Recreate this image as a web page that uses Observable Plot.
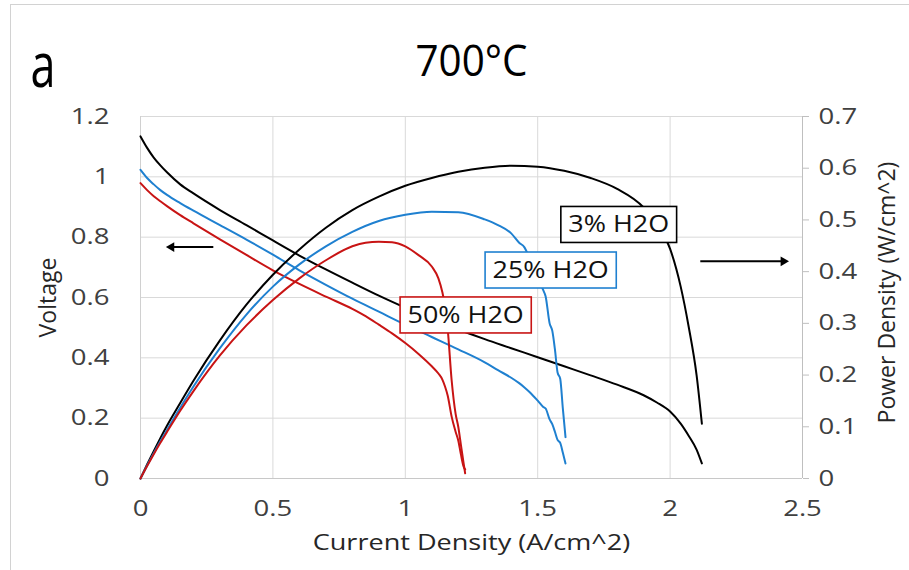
<!DOCTYPE html>
<html>
<head>
<meta charset="utf-8">
<script src="https://cdn.jsdelivr.net/npm/d3@7"></script>
<script src="https://cdn.jsdelivr.net/npm/@observablehq/plot@0.6"></script>
<style>
  html, body { margin: 0; padding: 0; background: #fff; overflow: hidden; }
  #chart { position: relative; width: 909px; height: 570px; }
  #chart .sheet { position: absolute; left: 10px; top: 4px; width: 940px; height: 620px; border: 1px solid #d2d2d2; box-sizing: border-box; pointer-events: none; }
  #chart svg { position: absolute; left: 0; top: 0; }
</style>
</head>
<body>
<div id="chart"><div class="sheet"></div></div>
<script>
// Polarization sweeps at 700°C: current density (A/cm^2), cell voltage (V), power density (W/cm^2)
const current3 = [0, 0.025, 0.05, 0.075, 0.1, 0.15, 0.2, 0.3, 0.4, 0.5, 0.6, 0.7, 0.8, 0.9, 1.0, 1.1, 1.2, 1.3, 1.4, 1.5, 1.6, 1.7, 1.8, 1.9, 1.95, 2.0, 2.04, 2.07, 2.1, 2.12];
const voltage3 = [1.134, 1.096, 1.064, 1.038, 1.015, 0.975, 0.945, 0.890, 0.840, 0.789, 0.739, 0.693, 0.649, 0.606, 0.566, 0.528, 0.494, 0.462, 0.432, 0.402, 0.372, 0.342, 0.311, 0.276, 0.252, 0.222, 0.182, 0.142, 0.096, 0.05];
const power3   = [0, 0.027, 0.053, 0.078, 0.102, 0.146, 0.189, 0.267, 0.336, 0.394, 0.443, 0.485, 0.519, 0.545, 0.566, 0.581, 0.593, 0.601, 0.605, 0.603, 0.595, 0.581, 0.56, 0.524, 0.491, 0.444, 0.371, 0.294, 0.2, 0.106];

const current25 = [0, 0.025, 0.05, 0.075, 0.1, 0.15, 0.2, 0.3, 0.4, 0.5, 0.6, 0.7, 0.8, 0.9, 1.0, 1.1, 1.2, 1.3, 1.35, 1.4, 1.43, 1.45, 1.47, 1.5, 1.52, 1.53, 1.545, 1.555, 1.565, 1.575, 1.585, 1.595, 1.605];
const voltage25 = [1.023, 0.996, 0.975, 0.956, 0.940, 0.913, 0.888, 0.840, 0.792, 0.742, 0.690, 0.642, 0.596, 0.553, 0.510, 0.469, 0.428, 0.385, 0.359, 0.334, 0.316, 0.302, 0.286, 0.258, 0.238, 0.232, 0.196, 0.18, 0.155, 0.128, 0.118, 0.085, 0.05];
const power25   = [0, 0.025, 0.049, 0.072, 0.094, 0.137, 0.178, 0.252, 0.317, 0.371, 0.414, 0.449, 0.477, 0.498, 0.51, 0.516, 0.515, 0.501, 0.49, 0.474, 0.456, 0.447, 0.425, 0.39, 0.365, 0.352, 0.3, 0.286, 0.25, 0.205, 0.193, 0.135, 0.08];

const current50 = [0, 0.025, 0.05, 0.075, 0.1, 0.15, 0.2, 0.3, 0.4, 0.5, 0.6, 0.7, 0.8, 0.85, 0.9, 0.95, 1.0, 1.05, 1.1, 1.125, 1.14, 1.15, 1.16, 1.175, 1.19, 1.2, 1.21, 1.22, 1.226];
const voltage50 = [0.979, 0.956, 0.936, 0.919, 0.903, 0.873, 0.846, 0.793, 0.741, 0.69, 0.645, 0.603, 0.562, 0.538, 0.510, 0.481, 0.449, 0.413, 0.372, 0.348, 0.328, 0.305, 0.275, 0.205, 0.155, 0.126, 0.08, 0.04, 0.03];
const power50   = [0, 0.024, 0.047, 0.069, 0.09, 0.131, 0.169, 0.238, 0.296, 0.345, 0.387, 0.422, 0.449, 0.456, 0.458, 0.457, 0.449, 0.432, 0.41, 0.387, 0.36, 0.333, 0.29, 0.19, 0.125, 0.1, 0.065, 0.03, 0.01];

const seriesNames  = ["3% H2O", "25% H2O", "50% H2O"];
const seriesColors = ["#000000", "#1f80d0", "#c81414"];

const xTicks       = [0, 0.5, 1, 1.5, 2, 2.5];
const voltageTicks = [0, 0.2, 0.4, 0.6, 0.8, 1, 1.2];
const powerTicks   = [0, 0.1, 0.2, 0.3, 0.4, 0.5, 0.6, 0.7];

// Series callouts, anchored in (current density, voltage) units
const calloutCurrent = [1.806, 1.549, 1.228];
const calloutVoltage = [0.84, 0.689, 0.54];

// Axis-direction arrows: start, end (current density) and height (voltage)
const arrowFrom = [0.275, 2.114];
const arrowTo   = [0.125, 2.42];
const arrowTip  = [0.117, 2.428];
const arrowAt   = [0.767, 0.72];
const arrowTurn = [-90, 90];

// Power density shares the voltage scale: 0.7 W/cm^2 sits level with 1.2 V
const powerToVoltage = 1.2 / 0.7;

const sweeps = [[current3, voltage3, power3], [current25, voltage25, power25], [current50, voltage50, power50]];
const rows = [];
sweeps.forEach(([j, v, p], s) => {
  j.forEach((c, i) => rows.push({series: seriesNames[s], j: c, v: v[i], p: p[i]}));
});

const callouts = seriesNames.map((name, i) => ({name, j: calloutCurrent[i], v: calloutVoltage[i], color: seriesColors[i]}));
const arrows = arrowFrom.map((x1, i) => ({x1, x2: arrowTo[i], tip: arrowTip[i], y: arrowAt[i], rotate: arrowTurn[i]}));

const plot = Plot.plot({
  width: 909,
  height: 570,
  marginLeft: 140,
  marginRight: 107,
  marginTop: 116,
  marginBottom: 92,
  style: {fontFamily: "'Open Sans', sans-serif", fontSize: "22px", color: "#404040", background: "transparent"},
  x: {domain: [0, 2.5]},
  y: {domain: [0, 1.2]},
  color: {domain: seriesNames, range: seriesColors},
  marks: [
    Plot.gridX(xTicks, {stroke: "#d9d9d9", strokeOpacity: 1}),
    Plot.gridY(voltageTicks, {stroke: "#d9d9d9", strokeOpacity: 1}),
    Plot.ruleX([0], {stroke: "#d0d0d0"}),
    Plot.ruleX([2.5], {stroke: "#bfbfbf"}),
    Plot.ruleY([0], {stroke: "#c8c8c8"}),
    Plot.axisX(xTicks, {tickSize: 0, tickPadding: 22, label: null, fill: "#404040", tickFormat: d => String(d)}),
    Plot.axisY(voltageTicks, {anchor: "left", tickSize: 0, tickPadding: 31, label: null, fill: "#404040", tickFormat: d => String(d)}),
    Plot.axisY(powerTicks.map(p => p * powerToVoltage), {
      anchor: "right", tickSize: 6, tickPadding: 10, label: null,
      stroke: "#bfbfbf", fill: "#404040",
      tickFormat: d => d3.format("~g")(+(d / powerToVoltage).toFixed(1))
    }),
    // voltage curves (left axis)
    Plot.line(rows, {x: "j", y: "v", z: "series", stroke: "series", strokeWidth: 2, curve: "monotone-x"}),
    // power density curves (right axis)
    Plot.line(rows, {x: "j", y: d => d.p * powerToVoltage, z: "series", stroke: "series", strokeWidth: 2, curve: "monotone-x"}),
    // arrows pointing each family of curves to its axis
    Plot.link(arrows, {x1: "x1", x2: "x2", y1: "y", y2: "y", stroke: "#000", strokeWidth: 2}),
    Plot.dot(arrows, {x: "tip", y: "y", symbol: "triangle", r: 3.6, fill: "#000", stroke: null, rotate: "rotate"}),
    Plot.text(callouts, {x: "j", y: "v", text: "name", fontSize: 23, fill: "#111", textAnchor: "middle", lineAnchor: "middle"}),
    Plot.text(["Current Density (A/cm^2)"], {frameAnchor: "bottom", dy: 64, fontSize: 22, fill: "#262626", textAnchor: "middle", lineAnchor: "middle"}),
    Plot.text(["Voltage"], {frameAnchor: "left", dx: -92, rotate: -90, fontSize: 23, fill: "#262626", textAnchor: "middle", lineAnchor: "middle"}),
    Plot.text(["Power Density (W/cm^2)"], {frameAnchor: "right", dx: 85, dy: -5, rotate: -90, fontSize: 23, fill: "#262626", textAnchor: "middle", lineAnchor: "middle"}),
    Plot.text(["700°C"], {frameAnchor: "top", dy: -55, fontSize: 44, fill: "#000", textAnchor: "middle", lineAnchor: "middle"}),
    Plot.text(["a"], {frameAnchor: "top-left", dx: -97.5, dy: -49, fontSize: 62, fill: "#000", textAnchor: "middle", lineAnchor: "middle"})
  ]
});

document.getElementById("chart").append(plot);

// Widen the glyphs of horizontal text to the chart's broad lettering
function setLength(t, len) {
  t.setAttribute("textLength", len);
  t.setAttribute("lengthAdjust", "spacingAndGlyphs");
}
const texts = Array.from(plot.querySelectorAll("text"));
const byContent = s => texts.filter(t => t.textContent === s);

plot.querySelectorAll('g[aria-label$="tick label"] text').forEach(t => setLength(t, t.getComputedTextLength() * 1.25));
byContent("Current Density (A/cm^2)").forEach(t => setLength(t, t.getComputedTextLength() * 1.23));
byContent("700°C").forEach(t => setLength(t, 112));
byContent("a").forEach(t => setLength(t, 25));

// Boxed series callouts with a white fill and the series colour as border
callouts.forEach(c => {
  byContent(c.name).forEach(t => {
    const len = t.getComputedTextLength() * 1.17;
    setLength(t, len);
    const b = t.getBBox();
    const cx = b.x + b.width / 2;
    const cy = b.y + b.height / 2 + 1;
    const w = len + 15, h = 36;
    const rect = document.createElementNS("http://www.w3.org/2000/svg", "rect");
    rect.setAttribute("x", cx - w / 2);
    rect.setAttribute("y", cy - h / 2);
    rect.setAttribute("width", w);
    rect.setAttribute("height", h);
    rect.setAttribute("fill", "#fff");
    rect.setAttribute("stroke", c.color);
    rect.setAttribute("stroke-width", 1.6);
    const tr = t.getAttribute("transform");
    if (tr) rect.setAttribute("transform", tr);
    t.parentNode.insertBefore(rect, t);
  });
});
</script>
</body>
</html>
